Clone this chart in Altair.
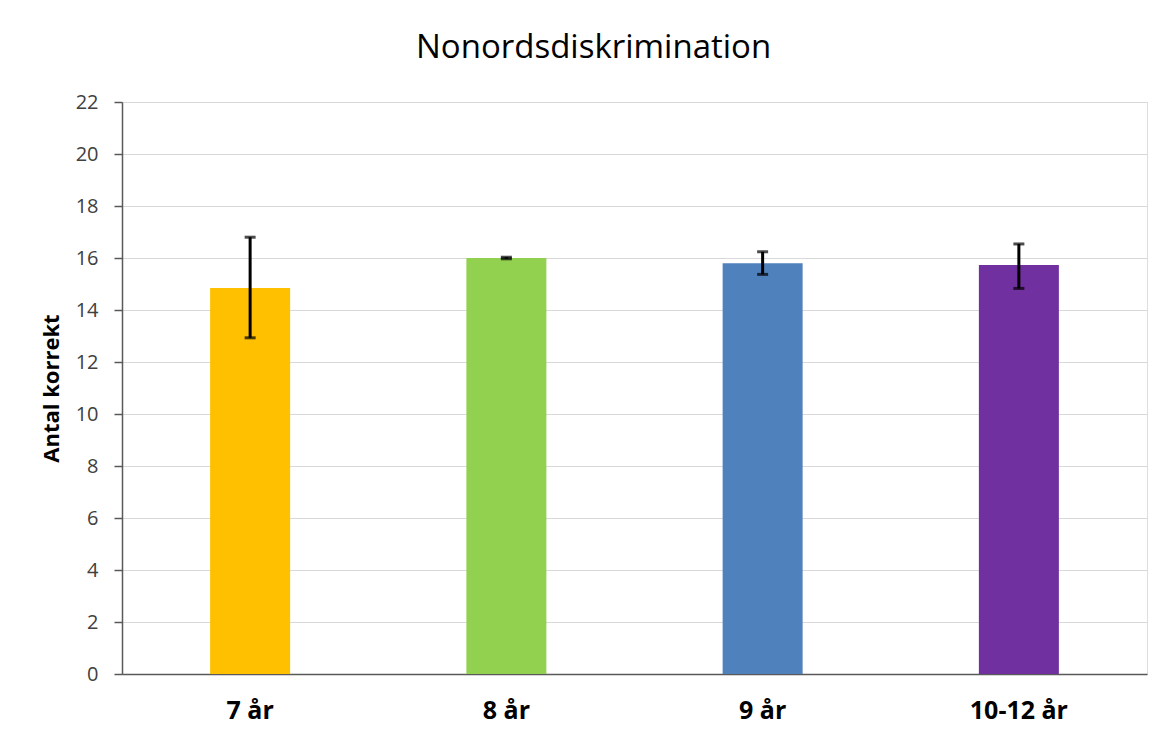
import altair as alt
import pandas as pd

categories = ["7 år", "8 år", "9 år", "10-12 år"]
means = [14.85, 16.0, 15.8, 15.73]
err_low = [12.93, 15.97, 15.37, 14.83]
err_high = [16.8, 16.03, 16.24, 16.54]
colors = ["#FFC000", "#92D050", "#4F81BD", "#7030A0"]

df = pd.DataFrame({"cat": categories, "mean": means, "lo": err_low, "hi": err_high})

FONT = "Open Sans"
x = alt.X("cat:N", sort=categories, title=None,
          scale=alt.Scale(paddingInner=0, paddingOuter=0),
          axis=alt.Axis(labelAngle=0, labelFontWeight="bold", labelFontSize=25, labelColor="#000000",
                        labelPadding=24, ticks=False, domainColor="#595959", domainWidth=1.5,
                        labelFont=FONT))

y_axis = alt.Axis(values=list(range(0, 23)), labelExpr="datum.value % 2 == 0 ? datum.label : ''",
                  title="Antal korrekt", titleFontWeight="bold", titleFontSize=22, titleColor="#000000",
                  titlePadding=12, titleFont=FONT,
                  labelFontSize=20, labelColor="#404040", labelPadding=16, labelFont=FONT,
                  tickSize=8, tickColor="#595959", tickWidth=1.5,
                  domainColor="#595959", domainWidth=1.5,
                  gridColor={"condition": {"test": "datum.value % 2 == 1", "value": "transparent"}, "value": "#d9d9d9"},
                  gridWidth=1)

bars = alt.Chart(df).mark_bar(size=80).encode(
    x=x,
    y=alt.Y("mean:Q", scale=alt.Scale(domain=[0, 22], nice=False), axis=y_axis),
    color=alt.Color("cat:N", scale=alt.Scale(domain=categories, range=colors), legend=None),
)

rules = alt.Chart(df).mark_rule(color="black", strokeWidth=3).encode(
    x=alt.X("cat:N", sort=categories), y="lo:Q", y2="hi:Q")
tick_lo = alt.Chart(df).mark_tick(color="black", thickness=3, size=11).encode(
    x=alt.X("cat:N", sort=categories), y="lo:Q")
tick_hi = alt.Chart(df).mark_tick(color="black", thickness=3, size=11).encode(
    x=alt.X("cat:N", sort=categories), y="hi:Q")

chart = alt.layer(bars, rules, tick_lo, tick_hi).properties(
    width=1025, height=572,
    title=alt.TitleParams("Nonordsdiskrimination", fontSize=33, font=FONT, fontWeight="normal",
                          color="#000000", anchor="middle", frame="bounds", offset=27),
    autosize=alt.AutoSizeParams(type="none"),
    padding={"left": 114, "top": 94, "right": 6, "bottom": 60},
).configure_view(stroke=None).configure(background="white")

chart.save("out.html", embed_options={"renderer": "svg", "actions": False})
